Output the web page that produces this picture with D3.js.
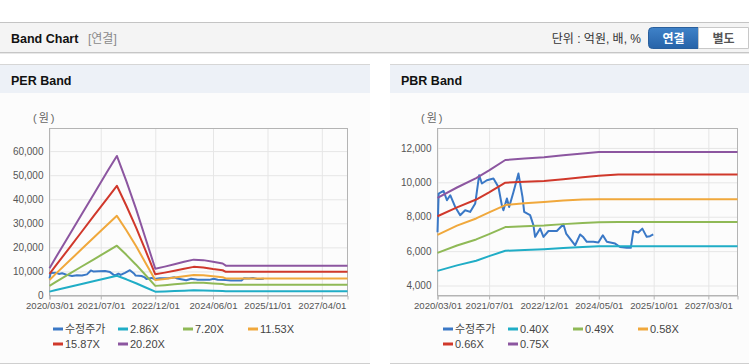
<!DOCTYPE html>
<html>
<head>
<meta charset="utf-8">
<script src="https://cdn.jsdelivr.net/npm/d3@7"></script>
<style>
body { margin: 0; background: #fff; }
svg text { font-family: "Liberation Sans", "Noto Sans CJK KR", sans-serif; }
</style>
</head>
<body>
<svg id="chart" width="749" height="364"></svg>
<script>
// 수정주가 (adjusted price), shared by both charts
const priceDates = ["2020-03-01","2020-03-12","2020-04-27","2020-05-29","2020-06-29","2020-08-15","2020-10-01","2020-11-17",
  "2021-01-03","2021-02-20","2021-03-29","2021-04-24","2021-06-10","2021-08-11","2021-09-27","2021-10-29","2021-11-13",
  "2021-12-16","2022-01-06","2022-02-16","2022-04-04","2022-05-12","2022-05-28","2022-07-23","2022-08-23","2022-09-08",
  "2022-10-26","2022-11-26","2023-01-12","2023-04-01","2023-06-02","2023-06-28","2023-09-21","2023-11-07","2023-12-08",
  "2024-01-09","2024-03-11","2024-04-27","2024-06-08","2024-07-16","2024-10-02","2024-11-18","2025-01-20","2025-02-27",
  "2025-03-23","2025-05-09","2025-06-16","2025-07-27","2025-08-27","2025-09-27"];
const priceValues = [7100,9350,9500,8960,9250,8570,8090,8380,
  8280,8770,10410,9930,10120,10220,9730,8670,8380,
  9060,8570,9440,10510,9150,8280,8090,7510,6830,
  7310,6830,7170,7170,7560,7020,6340,6970,6800,
  6540,6540,6500,6920,6540,6440,6240,6190,6190,
  7170,7080,7310,6830,6870,6970];

// PER band
const perDates = ["2020-03-01","2020-05-01","2020-09-01","2021-01-01","2021-05-01","2021-09-01","2021-12-01","2022-03-01",
  "2022-06-01","2022-09-01","2022-12-01","2023-03-01","2023-06-01","2023-09-01","2023-12-01","2024-03-01","2024-06-01",
  "2024-09-01","2024-10-01","2027-12-01"];
const per286 = [1600,2250,3510,4790,6020,7290,8200,6730,5100,3330,1600,1700,1850,2000,2150,2100,2000,1900,1780,1780];
const per720 = [4030,5670,8840,12050,15150,18350,20700,16900,12800,8400,4000,4300,4650,5000,5350,5250,5000,4750,4450,4450];
const per1153 = [6450,9080,14200,19300,24300,29400,33100,27100,20600,13400,6400,6900,7450,8000,8550,8400,8000,7600,7100,7100];
const per1587 = [9000,12500,19500,26500,33400,40400,45600,37300,28300,18500,8800,9500,10300,11100,11900,11600,11000,10500,9850,9850];
const per2020 = [11300,15900,24800,33800,42500,51500,58000,47500,36000,23500,11100,12000,13000,14000,14900,14700,14000,13300,12400,12400];
const perNames = ["수정주가","2.86X","7.20X","11.53X","15.87X","20.20X"];
const perXTicks = ["2020/03/01","2021/07/01","2022/12/01","2024/06/01","2025/11/01","2027/04/01"];
const perYTicks = [0,10000,20000,30000,40000,50000,60000];

// PBR band
const pbrDates = ["2020-03-01","2020-09-01","2021-03-01","2021-07-01","2021-12-01","2022-06-01","2022-12-01","2023-06-01",
  "2023-12-01","2024-05-01","2024-11-01","2027-12-01"];
const pbr040 = [4850,5170,5440,5710,6020,6060,6110,6180,6240,6280,6290,6290];
const pbr049 = [5900,6330,6680,6990,7400,7440,7490,7570,7630,7680,7700,7700];
const pbr058 = [6950,7480,7900,8250,8680,8780,8860,8950,9000,9020,9020,9020];
const pbr066 = [8030,8540,9000,9420,9980,10030,10080,10180,10300,10380,10450,10450];
const pbr075 = [9100,9700,10250,10700,11300,11380,11460,11570,11680,11770,11770,11770];
const pbrNames = ["수정주가","0.40X","0.49X","0.58X","0.66X","0.75X"];
const pbrXTicks = ["2020/03/01","2021/07/01","2022/12/01","2024/05/01","2025/10/01","2027/03/01"];
const pbrYTicks = [4000,6000,8000,10000,12000];

const couleurs = ["#3a78c6", "#20adc6", "#8fb956", "#f0a83c", "#d0382b", "#8c56a0"];

const parseDash = d3.timeParse("%Y-%m-%d");
const parseSlash = d3.timeParse("%Y/%m/%d");
const toPoints = (dates, values) => dates.map((d, i) => ({ date: parseDash(d), value: values[i] }));

const svg = d3.select("#chart");

// En-tête
svg.append("rect").attr("x", 0).attr("y", 22).attr("width", 749).attr("height", 31).attr("fill", "#f4f4f4");
svg.append("line").attr("x1", 0).attr("x2", 749).attr("y1", 22.5).attr("y2", 22.5).attr("stroke", "#c4c4c4");
svg.append("line").attr("x1", 0).attr("x2", 749).attr("y1", 52.5).attr("y2", 52.5).attr("stroke", "#c6c6c6");
svg.append("line").attr("x1", 0).attr("x2", 749).attr("y1", 53.5).attr("y2", 53.5).attr("stroke", "#e8e8e8");
svg.append("text").attr("x", 11).attr("y", 42.5).attr("font-size", "12.5px").attr("font-weight", "bold")
  .attr("fill", "#111").text("Band Chart");
svg.append("text").attr("x", 88).attr("y", 42.5).attr("font-size", "12px").attr("fill", "#8a8a8a").text("[연결]");
svg.append("text").attr("x", 641).attr("y", 42.5).attr("font-size", "12px").attr("fill", "#333")
  .attr("text-anchor", "end").text("단위 : 억원, 배, %");

const grad = svg.append("defs").append("linearGradient").attr("id", "btn").attr("x1", 0).attr("x2", 0).attr("y1", 0).attr("y2", 1);
grad.append("stop").attr("offset", "0%").attr("stop-color", "#3f82c8");
grad.append("stop").attr("offset", "100%").attr("stop-color", "#2763a8");
svg.append("path").attr("d", "M652.5,27.5 H698.5 V48.5 H652.5 Q648.5,48.5 648.5,44.5 V31.5 Q648.5,27.5 652.5,27.5 Z")
  .attr("fill", "url(#btn)").attr("stroke", "#2a5f9c");
svg.append("path").attr("d", "M698.5,27.5 H748.5 V48.5 H698.5 Z").attr("fill", "#fff").attr("stroke", "#c8c8c8");
svg.append("text").attr("x", 673.5).attr("y", 42.5).attr("text-anchor", "middle").attr("font-size", "12px")
  .attr("font-weight", "bold").attr("fill", "#fff").text("연결");
svg.append("text").attr("x", 723.5).attr("y", 42.5).attr("text-anchor", "middle").attr("font-size", "12px")
  .attr("font-weight", "bold").attr("fill", "#555").text("별도");

const domainX = [parseDash("2020-03-01"), parseDash("2027-12-01")];

function drawPanel(cfg) {
  const g = svg.append("g");
  // cadre du panneau
  g.append("rect").attr("x", cfg.px).attr("y", 64).attr("width", cfg.pw).attr("height", 29).attr("fill", "#edf1f7");
  g.append("rect").attr("x", cfg.px).attr("y", 93).attr("width", cfg.pw).attr("height", 270).attr("fill", "#fcfcfc");
  g.append("line").attr("x1", cfg.px).attr("x2", cfg.px + cfg.pw).attr("y1", 64.5).attr("y2", 64.5).attr("stroke", "#d6d6d6");
  g.append("line").attr("x1", cfg.px).attr("x2", cfg.px + cfg.pw).attr("y1", 363.5).attr("y2", 363.5).attr("stroke", "#cfcfcf");
  g.append("text").attr("x", cfg.px + 11).attr("y", 85).attr("font-size", "12.5px").attr("font-weight", "bold")
    .attr("fill", "#111").text(cfg.title);
  g.append("text").attr("x", cfg.unitX).attr("y", 122).attr("font-size", "11px").attr("letter-spacing", "2px")
    .attr("fill", "#666").text("(원)");

  const x = d3.scaleTime().domain(domainX).range([cfg.left, cfg.right]);
  const y = d3.scaleLinear().domain(cfg.yDomain).range([cfg.bottom, cfg.top]);
  const w = cfg.right - cfg.left;
  const h = cfg.bottom - cfg.top;
  const xTicks = cfg.xTicks.map(parseSlash);

  // grille
  g.append("g").attr("transform", `translate(${cfg.left},0)`)
    .call(d3.axisLeft(y).tickValues(cfg.yTicks).tickSize(-w).tickFormat(""))
    .call(s => s.select(".domain").remove())
    .call(s => s.selectAll("line").attr("stroke", "#e6e6e6"));
  g.append("g").attr("transform", `translate(0,${cfg.top})`)
    .call(d3.axisBottom(x).tickValues(xTicks).tickSize(h).tickFormat(""))
    .call(s => s.select(".domain").remove())
    .call(s => s.selectAll("line").attr("stroke", "#e6e6e6"));

  g.append("rect").attr("x", cfg.left).attr("y", cfg.top).attr("width", w).attr("height", h)
    .attr("fill", "none").attr("stroke", "#b4b4b4");

  // axes
  g.append("g").attr("transform", `translate(${cfg.left},0)`)
    .call(d3.axisLeft(y).tickValues(cfg.yTicks).tickSize(0).tickPadding(6).tickFormat(d3.format(",")))
    .call(s => s.select(".domain").remove())
    .call(s => s.selectAll("text").attr("font-size", "10px").attr("fill", "#555").attr("font-family", null));
  g.append("g").attr("transform", `translate(0,${cfg.bottom})`)
    .call(d3.axisBottom(x).tickValues(xTicks).tickSize(4).tickPadding(3).tickFormat(d3.timeFormat("%Y/%m/%d")))
    .call(s => s.select(".domain").attr("stroke", "#b4b4b4"))
    .call(s => s.selectAll("line").attr("stroke", "#b4b4b4"))
    .call(s => s.selectAll("text").attr("font-size", "9.6px").attr("fill", "#555").attr("font-family", null));

  // courbes
  const line = d3.line().x(d => x(d.date)).y(d => y(d.value));
  g.append("g").selectAll("path").data(cfg.series).enter().append("path")
    .attr("d", d => line(d))
    .attr("fill", "none")
    .attr("stroke", (d, i) => couleurs[i])
    .attr("stroke-width", 2)
    .attr("stroke-linejoin", "round");

  // légende
  const legend = g.append("g").selectAll("g").data(cfg.names).enter().append("g")
    .attr("transform", (d, i) => `translate(${cfg.legendX + (i % 4) * 65},${329 + Math.floor(i / 4) * 15})`);
  legend.append("line").attr("x1", 0).attr("x2", 10).attr("stroke", (d, i) => couleurs[i]).attr("stroke-width", 3);
  legend.append("text").attr("x", 12).attr("y", 4).attr("font-size", "11px").attr("fill", "#444").text(d => d);
}

const pricePoints = toPoints(priceDates, priceValues);

drawPanel({
  px: 0, pw: 370, title: "PER Band", unitX: 33,
  left: 49.5, right: 347.5, top: 128.5, bottom: 295.5,
  yDomain: [0, 69400], yTicks: perYTicks, xTicks: perXTicks,
  series: [pricePoints, toPoints(perDates, per286), toPoints(perDates, per720), toPoints(perDates, per1153),
    toPoints(perDates, per1587), toPoints(perDates, per2020)],
  names: perNames, legendX: 53
});

drawPanel({
  px: 390, pw: 359, title: "PBR Band", unitX: 421,
  left: 437.5, right: 737.5, top: 128.5, bottom: 295.5,
  yDomain: [3420, 13130], yTicks: pbrYTicks, xTicks: pbrXTicks,
  series: [pricePoints, toPoints(pbrDates, pbr040), toPoints(pbrDates, pbr049), toPoints(pbrDates, pbr058),
    toPoints(pbrDates, pbr066), toPoints(pbrDates, pbr075)],
  names: pbrNames, legendX: 443
});
</script>
</body>
</html>
